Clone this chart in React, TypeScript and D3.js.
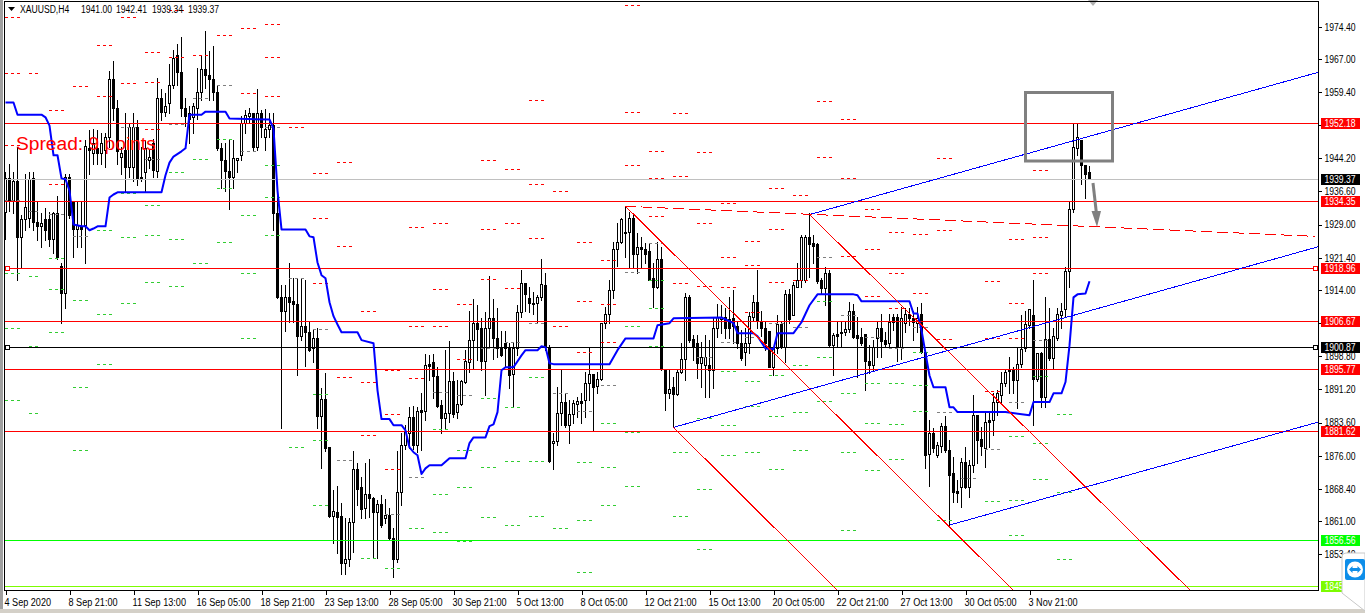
import React, { useEffect, useRef } from 'react';
import * as d3 from 'd3';

const WIDTH = 1365;
const HEIGHT = 613;

// H4 candles (oldest first)
const opens = [
  1931.8, 1939.6, 1934.5, 1939.1, 1926.1, 1930.2, 1930.4, 1939.6, 1929.7, 1928.6, 1930.2, 1930.2, 1925.6, 1931.6, 1919.6, 1913.2,
  1939.8, 1934.1, 1928.1, 1928.6, 1928.8, 1946.5, 1945.5, 1946.5, 1945.5, 1946.0, 1949.0, 1962.3, 1955.8, 1944.4, 1946.0, 1942.1,
  1942.1, 1951.3, 1939.8, 1941.0, 1943.7, 1947.6, 1941.4, 1958.1, 1954.9, 1956.8, 1960.9, 1967.8, 1964.1, 1955.8, 1954.7, 1953.6,
  1955.8, 1959.3, 1964.6, 1963.4, 1962.3, 1959.3, 1946.5, 1943.9, 1941.2, 1940.0, 1943.7, 1944.9, 1952.2, 1954.0, 1954.5, 1946.7,
  1954.5, 1949.0, 1951.0, 1951.9, 1931.6, 1912.3, 1909.1, 1912.3, 1911.4, 1910.7, 1903.4, 1905.7, 1904.3, 1900.6, 1902.9, 1885.0,
  1889.0, 1877.9, 1862.1, 1863.1, 1862.1, 1851.4, 1852.3, 1860.8, 1872.9, 1868.8, 1864.0, 1867.2, 1866.3, 1863.1, 1864.9, 1861.7,
  1862.4, 1857.1, 1852.3, 1867.6, 1878.4, 1881.2, 1884.8, 1878.4, 1886.4, 1886.2, 1897.0, 1897.4, 1894.2, 1887.6, 1884.6, 1885.7,
  1893.1, 1886.0, 1887.8, 1892.9, 1897.4, 1902.5, 1906.4, 1905.4, 1897.7, 1905.2, 1907.5, 1902.9, 1900.9, 1901.8, 1900.6, 1894.7,
  1900.6, 1908.9, 1915.5, 1912.1, 1911.0, 1911.0, 1912.3, 1915.1, 1900.9, 1878.9, 1879.3, 1885.7, 1888.3, 1883.0, 1885.5, 1887.8,
  1888.5, 1888.7, 1892.6, 1894.7, 1891.9, 1893.5, 1906.4, 1908.4, 1913.9, 1923.3, 1924.9, 1927.4, 1927.2, 1930.4, 1922.2, 1923.8,
  1923.5, 1922.9, 1916.7, 1914.6, 1921.0, 1896.0, 1890.3, 1891.7, 1890.1, 1895.1, 1898.1, 1912.3, 1902.7, 1901.8, 1897.2, 1896.7,
  1896.7, 1895.6, 1905.2, 1907.3, 1907.7, 1907.3, 1907.5, 1905.7, 1901.8, 1899.7, 1901.8, 1907.7, 1911.2, 1907.0, 1905.4, 1904.5,
  1896.3, 1900.6, 1906.1, 1900.9, 1913.0, 1908.2, 1914.8, 1916.2, 1916.2, 1926.1, 1924.7, 1924.5, 1916.2, 1914.4, 1917.8, 1901.3,
  1903.8, 1904.3, 1904.3, 1905.0, 1909.3, 1903.6, 1903.2, 1903.8, 1897.7, 1896.7, 1902.9, 1905.2, 1902.5, 1901.8, 1907.7, 1907.7,
  1900.9, 1906.4, 1908.6, 1907.5, 1906.4, 1908.4, 1899.7, 1876.4, 1881.2, 1876.1, 1878.2, 1882.8, 1877.3, 1872.0, 1867.9, 1868.8,
  1874.5, 1868.8, 1873.8, 1885.3, 1879.8, 1877.7, 1884.1, 1884.1, 1888.3, 1889.9, 1892.6, 1895.8, 1895.8, 1893.3, 1897.0, 1900.6,
  1905.9, 1908.2, 1893.5, 1899.5, 1889.4, 1902.7, 1898.3, 1902.9, 1908.2, 1909.6, 1918.3, 1932.5, 1946.5, 1948.3, 1942.6, 1941.0,
];
const highs = [
  1941.0, 1943.0, 1941.0, 1946.7, 1931.1, 1940.7, 1941.0, 1941.0, 1934.5, 1931.6, 1932.7, 1931.8, 1931.8, 1935.5, 1920.3, 1940.7,
  1940.7, 1934.1, 1934.1, 1934.1, 1948.3, 1950.6, 1951.0, 1950.6, 1949.9, 1950.1, 1964.3, 1966.6, 1957.5, 1946.7, 1954.5, 1952.2,
  1954.5, 1952.9, 1946.7, 1948.3, 1946.0, 1948.7, 1962.5, 1960.2, 1959.1, 1965.9, 1969.1, 1970.5, 1972.1, 1958.1, 1956.3, 1956.8,
  1965.0, 1967.8, 1973.5, 1968.9, 1970.0, 1961.1, 1947.6, 1947.8, 1948.5, 1948.3, 1944.2, 1954.0, 1955.2, 1955.8, 1954.5, 1960.0,
  1955.2, 1955.6, 1954.7, 1954.7, 1936.1, 1915.1, 1915.1, 1920.1, 1916.7, 1916.7, 1916.7, 1916.4, 1907.0, 1905.0, 1905.2, 1891.5,
  1894.9, 1877.9, 1868.1, 1869.0, 1865.1, 1861.7, 1861.7, 1877.0, 1874.3, 1871.1, 1874.3, 1875.2, 1866.5, 1865.8, 1866.9, 1866.0,
  1864.0, 1859.4, 1877.0, 1881.2, 1883.0, 1887.1, 1887.4, 1887.1, 1890.3, 1899.3, 1899.0, 1899.3, 1896.3, 1888.7, 1900.2, 1902.2,
  1895.1, 1893.3, 1893.3, 1900.2, 1909.3, 1911.9, 1910.5, 1907.5, 1908.9, 1917.1, 1911.9, 1909.8, 1904.5, 1904.5, 1901.8, 1902.0,
  1910.5, 1918.7, 1915.5, 1914.6, 1913.5, 1912.8, 1921.0, 1918.0, 1901.3, 1881.2, 1891.7, 1896.0, 1890.3, 1888.7, 1888.7, 1889.4,
  1890.3, 1895.1, 1900.6, 1894.7, 1895.1, 1906.4, 1910.0, 1916.4, 1924.9, 1929.3, 1930.6, 1933.0, 1931.8, 1931.6, 1927.0, 1926.1,
  1924.7, 1924.7, 1920.3, 1924.9, 1923.8, 1896.0, 1895.6, 1894.0, 1896.0, 1901.8, 1913.2, 1912.8, 1903.6, 1903.6, 1902.0, 1903.6,
  1902.5, 1907.5, 1910.7, 1910.5, 1909.8, 1912.3, 1913.9, 1906.6, 1904.8, 1905.4, 1908.9, 1912.8, 1918.5, 1909.3, 1906.6, 1904.5,
  1900.9, 1908.2, 1906.6, 1913.9, 1914.2, 1915.8, 1920.3, 1926.5, 1926.5, 1931.6, 1926.5, 1924.7, 1916.7, 1919.2, 1918.5, 1904.1,
  1906.6, 1907.0, 1906.8, 1911.2, 1910.7, 1907.7, 1905.4, 1903.8, 1901.3, 1902.5, 1906.6, 1908.6, 1904.3, 1908.6, 1908.6, 1908.6,
  1910.0, 1909.8, 1909.8, 1909.3, 1910.0, 1911.0, 1899.7, 1884.1, 1882.3, 1879.1, 1883.4, 1885.1, 1879.6, 1875.7, 1870.4, 1875.4,
  1877.9, 1875.0, 1889.9, 1885.3, 1882.5, 1886.0, 1885.7, 1890.3, 1891.0, 1895.1, 1896.0, 1898.6, 1896.3, 1900.6, 1908.2, 1909.3,
  1909.6, 1916.4, 1899.5, 1899.7, 1912.3, 1909.8, 1905.2, 1909.8, 1911.0, 1919.2, 1934.1, 1952.4, 1952.4, 1948.3, 1942.6, 1942.41,
];
const lows = [
  1925.6, 1932.2, 1931.6, 1916.2, 1919.2, 1927.7, 1928.4, 1927.7, 1925.4, 1923.8, 1925.4, 1924.2, 1922.4, 1921.2, 1906.4, 1909.8,
  1930.6, 1921.5, 1923.8, 1923.8, 1920.1, 1940.7, 1943.0, 1943.0, 1943.0, 1942.1, 1946.7, 1952.9, 1943.0, 1940.7, 1936.8, 1939.8,
  1939.1, 1938.0, 1939.1, 1936.4, 1941.9, 1939.8, 1939.8, 1952.9, 1954.0, 1954.5, 1960.4, 1960.9, 1954.0, 1951.7, 1947.8, 1950.1,
  1953.3, 1957.5, 1960.4, 1957.5, 1957.5, 1946.2, 1937.3, 1936.8, 1932.5, 1937.5, 1941.0, 1943.7, 1950.1, 1952.2, 1946.0, 1946.0,
  1949.0, 1946.0, 1949.0, 1927.7, 1912.1, 1882.3, 1904.5, 1906.6, 1906.6, 1894.4, 1902.5, 1896.5, 1900.0, 1897.4, 1882.3, 1873.1,
  1877.0, 1861.9, 1855.9, 1853.7, 1848.9, 1848.9, 1850.7, 1853.9, 1864.7, 1861.7, 1861.7, 1861.9, 1852.8, 1852.5, 1859.6, 1860.5,
  1856.9, 1848.2, 1851.6, 1864.7, 1877.5, 1877.7, 1877.5, 1876.8, 1877.3, 1884.1, 1893.3, 1889.2, 1887.1, 1881.2, 1882.1, 1883.7,
  1884.8, 1884.6, 1887.6, 1892.6, 1895.1, 1896.0, 1897.9, 1895.6, 1889.9, 1900.6, 1898.1, 1898.6, 1898.8, 1896.3, 1891.5, 1887.1,
  1899.0, 1907.7, 1909.3, 1908.9, 1908.6, 1906.6, 1911.6, 1900.2, 1874.5, 1872.9, 1878.4, 1883.0, 1882.5, 1878.9, 1883.4, 1884.8,
  1883.4, 1884.8, 1888.7, 1881.8, 1890.3, 1893.3, 1905.4, 1906.4, 1912.1, 1919.4, 1924.7, 1921.5, 1919.0, 1919.0, 1918.0, 1919.0,
  1920.1, 1916.2, 1910.0, 1914.4, 1895.6, 1886.4, 1889.2, 1882.5, 1889.9, 1894.9, 1893.3, 1902.0, 1897.9, 1893.8, 1891.7, 1889.4,
  1889.4, 1891.5, 1903.2, 1904.1, 1903.0, 1903.0, 1901.8, 1900.6, 1897.9, 1896.7, 1899.5, 1907.0, 1905.4, 1903.4, 1900.2, 1896.3,
  1894.4, 1899.5, 1900.6, 1897.4, 1906.4, 1908.2, 1914.6, 1914.6, 1915.8, 1916.9, 1920.1, 1915.5, 1913.2, 1910.5, 1901.1, 1894.4,
  1901.1, 1901.1, 1903.6, 1904.3, 1903.0, 1894.0, 1901.3, 1891.0, 1894.9, 1895.6, 1898.6, 1898.6, 1900.9, 1900.6, 1904.8, 1897.7,
  1898.1, 1904.3, 1905.9, 1902.5, 1904.3, 1899.5, 1873.1, 1869.0, 1876.8, 1875.7, 1876.8, 1876.8, 1860.1, 1865.3, 1865.3, 1864.2,
  1868.6, 1866.5, 1872.2, 1874.3, 1876.1, 1873.4, 1877.9, 1880.7, 1885.3, 1888.0, 1891.9, 1890.3, 1890.3, 1886.9, 1896.3, 1899.9,
  1905.4, 1883.0, 1893.1, 1887.1, 1887.1, 1897.9, 1896.0, 1902.5, 1905.2, 1907.7, 1914.6, 1932.0, 1944.9, 1938.4, 1935.2, 1939.34,
];
const closes = [
  1939.6, 1934.5, 1939.1, 1926.1, 1930.2, 1933.0, 1939.4, 1929.7, 1928.6, 1929.3, 1927.7, 1925.8, 1931.6, 1921.5, 1913.2, 1940.0,
  1931.1, 1928.1, 1928.8, 1928.1, 1947.1, 1946.0, 1947.6, 1945.5, 1947.6, 1949.0, 1962.3, 1955.8, 1945.8, 1945.5, 1942.1, 1951.3,
  1951.3, 1939.6, 1939.6, 1946.5, 1944.4, 1941.6, 1958.1, 1954.9, 1956.3, 1961.1, 1967.3, 1964.1, 1955.8, 1954.0, 1953.3, 1956.1,
  1959.5, 1964.6, 1963.2, 1962.3, 1959.5, 1946.5, 1943.7, 1941.2, 1940.0, 1944.2, 1944.2, 1952.2, 1954.2, 1954.5, 1946.7, 1954.5,
  1951.3, 1951.0, 1951.9, 1931.6, 1912.3, 1909.1, 1912.3, 1911.2, 1910.7, 1903.4, 1905.7, 1904.3, 1900.2, 1902.9, 1885.0, 1889.0,
  1877.7, 1862.1, 1863.3, 1861.9, 1851.4, 1852.3, 1860.8, 1872.9, 1868.3, 1863.7, 1867.2, 1866.3, 1863.1, 1864.9, 1860.1, 1862.4,
  1857.1, 1852.3, 1867.6, 1878.4, 1881.4, 1884.8, 1878.4, 1886.2, 1886.0, 1896.7, 1896.5, 1894.2, 1887.4, 1884.6, 1885.7, 1893.1,
  1885.5, 1887.8, 1893.1, 1897.7, 1902.5, 1906.4, 1905.0, 1897.7, 1905.2, 1907.5, 1902.9, 1900.6, 1899.0, 1900.6, 1894.4, 1900.6,
  1908.9, 1915.5, 1913.0, 1911.0, 1910.7, 1912.3, 1915.3, 1900.9, 1874.8, 1879.3, 1885.7, 1888.3, 1883.0, 1885.5, 1888.0, 1888.5,
  1888.0, 1892.6, 1894.7, 1891.7, 1893.5, 1906.4, 1908.4, 1913.9, 1923.3, 1924.9, 1930.2, 1927.0, 1930.4, 1922.2, 1923.8, 1923.3,
  1922.2, 1916.4, 1914.6, 1921.0, 1895.8, 1890.3, 1891.2, 1890.1, 1895.1, 1898.1, 1912.3, 1902.5, 1900.9, 1897.2, 1898.6, 1898.6,
  1895.6, 1905.2, 1907.7, 1907.7, 1905.4, 1905.4, 1905.7, 1901.8, 1898.3, 1901.8, 1908.0, 1911.2, 1907.0, 1905.4, 1901.8, 1896.3,
  1900.6, 1906.1, 1900.9, 1913.0, 1907.3, 1915.1, 1916.2, 1926.1, 1926.1, 1924.5, 1924.2, 1916.0, 1914.4, 1917.8, 1901.3, 1903.6,
  1903.4, 1904.1, 1905.0, 1909.3, 1903.2, 1902.9, 1901.8, 1897.7, 1896.7, 1900.9, 1905.2, 1902.2, 1901.6, 1906.6, 1906.6, 1900.9,
  1907.5, 1908.6, 1907.5, 1906.6, 1907.5, 1899.7, 1876.1, 1881.2, 1877.7, 1878.4, 1882.8, 1877.3, 1871.5, 1867.6, 1867.4, 1874.5,
  1868.8, 1873.8, 1885.3, 1879.6, 1878.2, 1883.7, 1883.7, 1888.3, 1890.3, 1892.6, 1895.1, 1895.4, 1893.3, 1897.0, 1900.4, 1906.1,
  1909.6, 1893.5, 1899.5, 1889.4, 1902.7, 1898.3, 1903.4, 1908.4, 1909.3, 1918.3, 1932.5, 1946.7, 1949.0, 1942.6, 1940.7, 1939.37,
];

// stepped blue indicator, only its corners were read
const trendBars = [
  0, 2, 3, 9, 10, 11, 12, 13, 14, 15, 16, 17, 19, 20, 21, 22, 23, 25, 26, 27, 28, 39, 40, 41, 42, 44, 45, 46, 49, 50, 55, 56, 66, 67, 68, 69,
  75, 76, 77, 78, 79, 80, 81, 82, 83, 84, 88, 89, 92, 93, 94, 96, 97, 99, 100, 101, 102, 103, 104, 105, 106, 109, 111, 115, 116, 117, 120,
  121, 122, 123, 124, 125, 127, 129, 130, 133, 134, 135, 136, 137, 151, 153, 155, 162, 163, 166, 167, 179, 182, 183, 187, 188, 190, 192,
  193, 197, 199, 201, 203, 212, 213, 214, 226, 227, 228, 229, 230, 231, 232, 235, 236, 237, 238, 250, 256, 257, 261, 262, 264, 265, 266,
  267, 268, 270, 271,
];
const trendPrices = [
  1957.0, 1957.0, 1954.2, 1954.2, 1953.6, 1951.7, 1944.9, 1944.9, 1939.6, 1939.4, 1936.8, 1929.0, 1928.6, 1928.6, 1927.7, 1928.1, 1928.6,
  1928.6, 1935.2, 1935.9, 1936.4, 1936.4, 1940.3, 1943.2, 1944.6, 1945.8, 1946.5, 1954.2, 1954.2, 1954.9, 1954.9, 1953.3, 1953.1, 1951.0,
  1936.8, 1927.9, 1927.9, 1926.3, 1926.1, 1920.3, 1917.4, 1916.7, 1911.2, 1908.0, 1906.1, 1904.3, 1904.3, 1902.5, 1901.8, 1891.0, 1884.4,
  1884.4, 1883.0, 1883.0, 1881.8, 1877.9, 1876.8, 1876.1, 1871.8, 1873.1, 1873.8, 1873.8, 1875.4, 1875.4, 1878.9, 1880.2, 1880.2, 1882.8,
  1883.2, 1886.0, 1895.6, 1896.3, 1896.3, 1899.0, 1900.2, 1900.2, 1901.1, 1900.9, 1897.2, 1897.0, 1897.0, 1900.2, 1902.9, 1902.9, 1905.9,
  1906.4, 1907.5, 1907.7, 1906.4, 1904.1, 1904.1, 1903.4, 1900.6, 1900.4, 1904.1, 1904.1, 1906.6, 1910.5, 1913.0, 1913.0, 1912.8, 1911.4,
  1911.4, 1908.6, 1908.6, 1904.8, 1899.5, 1894.4, 1891.7, 1891.7, 1887.1, 1887.1, 1886.0, 1886.0, 1885.3, 1888.3, 1888.3, 1890.3, 1890.3,
  1892.9, 1901.3, 1912.3, 1913.0, 1913.2, 1916.0,
];

// daily pivot levels, one entry per day; hidden levels are left out
const pivotStartBars = [
  0, 6, 11, 17, 23, 29, 35, 41, 47, 53, 59, 65, 71, 77, 83, 89, 95, 101, 107, 113, 119, 125, 131, 137, 143, 149, 155, 161, 167, 173, 179,
  185, 191, 197, 203, 209, 215, 221, 227, 233, 239, 245, 251, 257, 263,
];
const resistances = [
  [1976.5, 1963.6, 1947.1], [1963.6], [1955.2, 1938.2], [1960.7], [1970.0, 1958.4], [1976.5, 1961.3], [1968.4, 1961.6, 1950.8],
  [1978.1, 1967.3], [1967.8], [1972.3], [1973.9, 1959.1], [1974.9, 1967.3, 1958.4], [1951.3], [1940.7, 1930.4, 1915.5],
  [1943.2, 1924.0, 1894.0], [1909.1, 1892.8, 1880.7], [1895.6, 1885.5, 1872.9], [1928.4, 1905.7, 1893.8], [1929.3, 1914.1, 1905.7],
  [1910.7, 1898.1], [1943.7, 1927.9, 1916.4], [1941.6, 1929.3, 1914.4], [1957.5, 1938.2, 1925.8], [1936.6, 1905.7],
  [1924.9, 1911.4, 1899.7], [1920.8, 1910.7, 1902.0], [1979.2, 1954.7, 1942.6], [1945.8, 1939.6, 1930.9], [1954.5, 1940.0, 1915.5],
  [1945.5, 1929.3, 1914.8], [1933.9, 1921.5, 1914.6], [1925.2, 1919.6, 1908.9], [1937.3, 1927.9, 1915.8], [1935.7, 1916.2],
  [1957.2, 1944.4], [1953.1, 1939.6, 1921.7], [1932.5, 1923.3, 1912.5], [1927.2, 1917.8, 1909.8], [1926.8, 1913.2],
  [1944.2, 1927.7, 1902.7], [], [1916.0, 1902.9, 1890.8], [1925.6, 1911.0, 1902.9], [1941.4, 1926.1, 1917.8], [],
];
const pivots = [
  [1934.5], [1932.0], [1931.3], [1926.3], [1939.4], [1951.3], [1943.9], [1952.0], [1957.9], [1960.9], [1945.8], [1951.3], [1916.7], [1905.0],
  [1875.0], [], [1862.6], [1871.1], [1890.6], [1889.9], [1900.6], [1902.0], [1906.4], [1890.3], [1886.2], [1892.2], [1918.0], [1924.7],
  [1900.9], [1898.6], [1902.0], [1903.2], [1906.4], [1905.4], [1921.5], [1908.2], [1903.2], [1900.6], [1905.4], [1886.0], [1870.8], [1877.5],
  [1888.3], [1902.5], [],
];
const supports = [
  [1917.8, 1905.2, 1888.7], [1917.1, 1901.1, 1885.7], [1921.2, 1914.1, 1904.3], [1911.6, 1891.7, 1877.3], [1927.7, 1908.4, 1897.0],
  [1936.1, 1926.1, 1911.0], [1933.4, 1926.5, 1915.8], [1941.0, 1925.6, 1914.8], [1943.9, 1920.1], [1948.5, 1937.3, 1924.9],
  [1931.1, 1917.8, 1902.9], [1942.6, 1935.2, 1926.5], [1877.9], [1890.1, 1879.6, 1864.7], [], [1852.5], [1850.2], [1859.2],
  [1882.1, 1867.0, 1858.3], [1877.3, 1868.8, 1856.4], [1889.2, 1873.4, 1861.9], [1887.1, 1874.7, 1859.9], [1894.0, 1874.7, 1862.1],
  [1859.4], [1874.5, 1861.2, 1849.3], [1883.5, 1873.4, 1864.7], [1905.7, 1881.4, 1869.0], [1916.2, 1909.8, 1901.1], [1876.8, 1862.1],
  [1884.6, 1868.3, 1854.4], [1895.4, 1883.0, 1876.1], [1893.1, 1887.4, 1876.8], [1894.4, 1885.1, 1872.9], [1896.7, 1886.0, 1877.3],
  [1911.4, 1898.6, 1888.5], [1890.3, 1876.8, 1858.9], [1892.6, 1883.5, 1872.7], [1892.6, 1883.2, 1875.2], [1899.7, 1892.2, 1886.2],
  [1861.2], [], [1865.4], [1880.5, 1865.8, 1857.8], [1894.2, 1878.9, 1870.6], [1885.5, 1867.6, 1852.1],
];

// axis labels
const priceTicks = [
  1974.4, 1967.0, 1959.4, 1951.8, 1944.2, 1936.6, 1929.0, 1921.4, 1914.0, 1906.4, 1898.8, 1891.2, 1883.6, 1876.0, 1868.4, 1861.0, 1853.4,
];
const timeTickBars = [0, 16, 32, 48, 64, 80, 96, 112, 128, 144, 160, 176, 192, 208, 224, 240, 256];
const timeLabels = [
  '4 Sep 2020', '8 Sep 21:00', '11 Sep 13:00', '16 Sep 05:00', '18 Sep 21:00', '23 Sep 13:00', '28 Sep 05:00', '30 Sep 21:00', '5 Oct 13:00',
  '8 Oct 05:00', '12 Oct 21:00', '15 Oct 13:00', '20 Oct 05:00', '22 Oct 21:00', '27 Oct 13:00', '30 Oct 05:00', '3 Nov 21:00',
];

// horizontal levels and the tag each one has on the price axis
const levelPrices = [1952.18, 1934.35, 1918.96, 1906.67, 1895.77, 1881.62, 1856.56, 1845.93, 1900.87, 1939.37];
const levelColors = ['#ff0000', '#ff0000', '#ff0000', '#ff0000', '#ff0000', '#ff0000', '#00ff00', '#7cfc00', '#000000', '#c0c0c0'];
const tagColors = ['#ff0000', '#ff0000', '#ff0000', '#ff0000', '#ff0000', '#ff0000', '#00ff00', '#7cfc00', '#000000', '#000000'];
const anchoredLevels = [1918.96, 1900.87];

// trend lines as [bar, price, bar, price]
const blueLines = [
  [201, 1931.3, 328.1, 1963.9],
  [167, 1882.5, 328.1, 1923.9],
  [236, 1860.1, 328.1, 1883.7],
];
const redLines = [
  [155, 1933.2, 251.9, 1845.2],
  [201, 1931.3, 296.1, 1845.2],
  [167, 1882.5, 207.9, 1845.2],
];
const medianLine = [155, 1933.2, 327.5, 1926.3];

const UI_FONT = '"Liberation Sans", Arial, sans-serif';

export default function App() {
  const svgRef = useRef<SVGSVGElement>(null);

  useEffect(() => {
    if (!svgRef.current) return;
    const svg = d3.select(svgRef.current);
    svg.selectAll('*').remove();

    const x = d3.scaleLinear().domain([0, 271]).range([5.5, 1089.5]);
    const y = d3.scaleLinear().domain([1952.18, 1856.56]).range([123.5, 540.5]);
    const py = (p: number) => Math.floor(y(p)) + 0.5;

    // bitmap terminal font is narrower than anything installed
    const squeeze = (sel: any, k: number) => {
      sel.each(function (this: SVGTextElement) {
        this.setAttribute('textLength', String(this.getComputedTextLength() * k));
        this.setAttribute('lengthAdjust', 'spacingAndGlyphs');
      });
    };

    svg.append('rect').attr('width', WIDTH).attr('height', HEIGHT).attr('fill', '#fff');
    svg.append('rect').attr('x', 0).attr('y', 0).attr('width', 3).attr('height', HEIGHT).attr('fill', '#a0a0a0');
    svg.append('rect').attr('x', 0).attr('y', 609).attr('width', WIDTH).attr('height', 4).attr('fill', '#d4d0c8');

    svg.append('clipPath').attr('id', 'plot')
      .append('rect').attr('x', 5).attr('y', 2).attr('width', 1313).attr('height', 588);

    const plot = svg.append('g').attr('clip-path', 'url(#plot)');

    // Candles
    const bars = d3.range(opens.length);
    plot.append('g').attr('shape-rendering', 'crispEdges')
      .selectAll('rect').data(bars).enter().append('rect')
      .attr('x', i => x(i) - 0.5)
      .attr('width', 1)
      .attr('y', i => Math.round(y(highs[i])))
      .attr('height', i => Math.max(1, Math.round(y(lows[i])) - Math.round(y(highs[i])) + 1))
      .attr('fill', '#000');

    const bodies = plot.append('g').attr('shape-rendering', 'crispEdges')
      .selectAll('rect').data(bars).enter().append('rect');
    bodies.each(function (i) {
      const top = Math.round(y(Math.max(opens[i], closes[i])));
      const bottom = Math.round(y(Math.min(opens[i], closes[i])));
      const up = closes[i] >= opens[i];
      d3.select(this)
        .attr('x', up ? x(i) - 1 : x(i) - 1.5)
        .attr('width', up ? 2 : 3)
        .attr('y', up ? top + 0.5 : top)
        .attr('height', up ? Math.max(1, bottom - top) : Math.max(1, bottom - top + 1))
        .attr('fill', up ? '#fff' : '#000')
        .attr('stroke', up ? '#000' : 'none');
    });

    // Pivot dashes
    const dashes = plot.append('g').attr('shape-rendering', 'crispEdges').attr('stroke-dasharray', '3 3');
    const drawLevels = (levels: number[][], color: string) => {
      levels.forEach((day, k) => {
        const x0 = x(pivotStartBars[k]) - 0.5;
        const len = k === 1 ? 9 : 15;
        day.forEach(p => {
          dashes.append('line')
            .attr('x1', x0).attr('x2', x0 + len)
            .attr('y1', py(p)).attr('y2', py(p))
            .attr('stroke', color);
        });
      });
    };
    drawLevels(pivots, '#808080');
    drawLevels(supports, '#32cd32');
    drawLevels(resistances, '#ff0000');

    // Horizontal levels
    plot.append('g').attr('shape-rendering', 'crispEdges')
      .selectAll('line').data(levelPrices).enter().append('line')
      .attr('x1', 5).attr('x2', 1318)
      .attr('y1', d => py(d)).attr('y2', d => py(d))
      .attr('stroke', (d, i) => levelColors[i]);

    // Stepped indicator
    const trendLine = d3.line<number>().x(i => x(trendBars[i])).y(i => y(trendPrices[i]));
    plot.append('path')
      .attr('d', trendLine(d3.range(trendBars.length)))
      .attr('fill', 'none')
      .attr('stroke', '#0000ff')
      .attr('stroke-width', 2)
      .attr('stroke-linejoin', 'round');

    // Trend lines
    const segment = (l: number[], color: string, dash?: string) => {
      plot.append('line')
        .attr('x1', x(l[0])).attr('y1', y(l[1]))
        .attr('x2', x(l[2])).attr('y2', y(l[3]))
        .attr('stroke', color)
        .attr('stroke-dasharray', dash || null)
        .attr('shape-rendering', 'crispEdges');
    };
    redLines.forEach(l => segment(l, '#ff0000'));
    blueLines.forEach(l => segment(l, '#0000ff'));
    segment(medianLine, '#ff0000', '11 5');

    // Level anchors
    anchoredLevels.forEach(p => {
      const color = levelColors[levelPrices.indexOf(p)];
      [5, 1313].forEach(ax => {
        svg.append('rect')
          .attr('x', ax + 0.5).attr('y', py(p) - 2)
          .attr('width', 4).attr('height', 4)
          .attr('fill', '#fff').attr('stroke', color)
          .attr('shape-rendering', 'crispEdges');
      });
    });

    // Drawn objects: box, arrow, small marker on top
    svg.append('rect')
      .attr('x', 1025.5).attr('y', 92.5).attr('width', 87).attr('height', 68.5)
      .attr('fill', 'none').attr('stroke', '#808080').attr('stroke-width', 3);
    svg.append('line')
      .attr('x1', 1093).attr('y1', 183).attr('x2', 1096.5).attr('y2', 214)
      .attr('stroke', '#808080').attr('stroke-width', 3);
    svg.append('path').attr('d', 'M1091.5,211L1101,211L1097,227Z').attr('fill', '#808080');
    svg.append('path').attr('d', 'M1088,0L1098,0L1093,6Z').attr('fill', '#b0b0b0');

    // Axes
    const priceAxis = svg.append('g')
      .attr('transform', 'translate(1318.5,0)')
      .call(d3.axisRight(y).tickValues(priceTicks).tickFormat(d3.format('.2f') as any).tickSize(3).tickSizeOuter(0));
    priceAxis.select('.domain').remove();
    priceAxis.selectAll('line').attr('stroke', '#000').attr('shape-rendering', 'crispEdges');
    priceAxis.selectAll('text')
      .attr('x', 6).attr('dy', '0.34em')
      .attr('font-family', UI_FONT).attr('font-size', 10).attr('fill', '#000')
      .call(squeeze, 0.86);

    const timeAxis = svg.append('g')
      .attr('transform', 'translate(0,590.5)')
      .call(d3.axisBottom(x).tickValues(timeTickBars).tickFormat((d, i) => timeLabels[i]).tickSize(4).tickSizeOuter(0));
    timeAxis.select('.domain').remove();
    timeAxis.selectAll('line').attr('stroke', '#000').attr('shape-rendering', 'crispEdges');
    timeAxis.selectAll('text')
      .attr('text-anchor', 'start').attr('x', -1.5).attr('y', 8).attr('dy', '0.71em')
      .attr('font-family', UI_FONT).attr('font-size', 10).attr('fill', '#000')
      .call(squeeze, 0.91);

    // Frame lines
    const frame = svg.append('g').attr('stroke', '#000').attr('shape-rendering', 'crispEdges');
    frame.append('line').attr('x1', 4.5).attr('x2', 4.5).attr('y1', 1).attr('y2', 591);
    frame.append('line').attr('x1', 4).attr('x2', 1319).attr('y1', 1.5).attr('y2', 1.5);
    frame.append('line').attr('x1', 4).attr('x2', 1319).attr('y1', 590.5).attr('y2', 590.5);
    frame.append('line').attr('x1', 1318.5).attr('x2', 1318.5).attr('y1', 1).attr('y2', 591);

    // Price tags
    const tags = svg.append('g').selectAll('g').data(levelPrices).enter().append('g');
    tags.append('rect')
      .attr('x', 1321).attr('width', 39)
      .attr('y', d => py(d) - 6).attr('height', 11)
      .attr('fill', (d, i) => tagColors[i])
      .attr('shape-rendering', 'crispEdges');
    tags.append('text')
      .attr('x', 1324.5).attr('y', d => py(d) + 3.5)
      .attr('font-family', UI_FONT).attr('font-size', 10).attr('fill', '#fff')
      .text(d => d3.format('.2f')(d))
      .call(squeeze, 0.86);

    // Header
    svg.append('path').attr('d', 'M8,7L15,7L11.5,11Z').attr('fill', '#000');
    const header = [['XAUUSD,H4', 20], ['1941.00', 81], ['1942.41', 116], ['1939.34', 152], ['1939.37', 188]] as [string, number][];
    svg.append('g').selectAll('text').data(header).enter().append('text')
      .attr('x', d => d[1]).attr('y', 13)
      .attr('font-family', UI_FONT).attr('font-size', 10).attr('fill', '#000')
      .text(d => d[0])
      .call(squeeze, 0.86);

    svg.append('text')
      .attr('x', 16).attr('y', 150)
      .attr('font-family', UI_FONT).attr('font-size', 19.2).attr('fill', '#ff0000')
      .text('Spread: 9 points');

    // Remote-support panel in the corner of the screenshot
    const panel = svg.append('g');
    panel.append('path')
      .attr('d', 'M1342,593L1342,557Q1342,553 1346,553L1365,553L1365,611Z')
      .attr('fill', '#fff').attr('stroke', '#c8c8c8');
    panel.append('rect').attr('x', 1345).attr('y', 559).attr('width', 20).attr('height', 21).attr('rx', 2).attr('fill', '#0e8ee9');
    panel.append('circle').attr('cx', 1355).attr('cy', 569.5).attr('r', 8).attr('fill', '#fff');
    panel.append('path').attr('d', 'M1349,569.5L1352.5,566L1352.5,568L1357.5,568L1357.5,566L1361,569.5L1357.5,573L1357.5,571L1352.5,571L1352.5,573Z').attr('fill', '#0e8ee9');
  }, []);

  return (
    <svg
      ref={svgRef}
      width={WIDTH}
      height={HEIGHT}
      style={{ position: 'fixed', left: 0, top: 0 }}
    />
  );
}
